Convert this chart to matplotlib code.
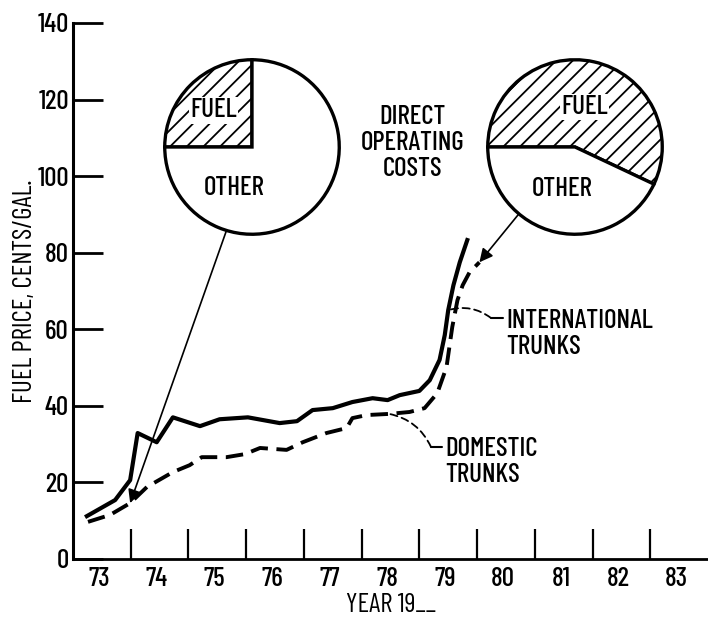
import matplotlib.pyplot as plt
import numpy as np

plt.rcParams['font.family'] = ['Barlow Condensed', 'Roboto Condensed',
                               'Fira Sans Condensed', 'DejaVu Sans']
plt.rcParams['font.size'] = 19.5
plt.rcParams['font.weight'] = 500
plt.rcParams['hatch.linewidth'] = 1.3

# fuel price, cents per gallon
intl_years = [73.24, 73.73, 73.99, 74.12, 74.45, 74.73, 75.2, 75.54, 76.03, 76.58,
              76.88, 77.15, 77.5, 77.84, 78.19, 78.45, 78.66, 79.0, 79.18, 79.35,
              79.44, 79.5, 79.59, 79.7, 79.83]
intl_price = [11.2, 15.4, 20.6, 32.9, 30.5, 37.0, 34.7, 36.5, 37.0, 35.5,
              36.0, 38.9, 39.4, 41.0, 42.0, 41.5, 42.8, 43.9, 46.7, 52.0,
              58.5, 65.0, 71.5, 77.5, 83.3]

dom_years = [73.26, 73.64, 73.99, 74.28, 74.73, 75.02, 75.23, 75.66, 75.98, 76.24,
             76.7, 76.98, 77.39, 77.74, 77.84, 78.09, 78.48, 78.83, 79.09, 79.31,
             79.47, 79.57, 79.66, 79.75, 79.87, 80.04]
dom_price = [9.7, 11.5, 14.6, 18.8, 22.7, 24.5, 26.6, 26.6, 27.4, 29.0,
             28.5, 30.5, 32.9, 34.2, 36.8, 37.6, 37.9, 38.4, 39.4, 43.3,
             50.1, 60.6, 67.6, 71.5, 74.9, 77.5]

year_ticks = list(range(74, 84))
year_labels = ['73', '74', '75', '76', '77', '78', '79', '80', '81', '82', '83']
y_ticks = [0, 20, 40, 60, 80, 100, 120, 140]

# direct operating cost split (percent)
pie_early = [25, 75]   # fuel, other
pie_late = [57, 43]

W, H = 708, 623
fig = plt.figure(figsize=(W / 100, H / 100), dpi=100)
ax = fig.add_axes([73 / W, 64 / H, (W - 73) / W, 536 / H])

ax.plot(intl_years, intl_price, color='k', lw=3.0, solid_joinstyle='round')
ax.plot(dom_years, dom_price, color='k', lw=2.8, dashes=(4.5, 2.2))

ax.set_xlim(73, 84)
ax.set_ylim(0, 140)
ax.set_yticks(y_ticks)
ax.set_xticks(year_ticks)
ax.set_xticklabels([])
ax.set_xticks([y + 0.45 for y in range(73, 84)], minor=True)
ax.set_xticklabels(year_labels, minor=True)
ax.tick_params(axis='both', which='major', direction='in', length=21.5, width=1.6,
               pad=3)
ax.tick_params(axis='x', which='minor', length=0, pad=6)
ax.tick_params(axis='y', width=2.0)
for s in ['top', 'right']:
    ax.spines[s].set_visible(False)
ax.spines['left'].set_linewidth(2.2)
ax.spines['bottom'].set_linewidth(2.0)
ax.set_ylabel('FUEL PRICE, CENTS/GAL.', labelpad=0)
ax.set_xlabel('YEAR 19__', labelpad=1)


def draw_pie(cx, cy, r, shares, fuel_xy, other_xy):
    pax = fig.add_axes([(cx - r) / W, (H - cy - r) / H, 2 * r / W, 2 * r / H])
    wedges, _ = pax.pie(shares, startangle=180, counterclock=False, radius=1,
                        colors=['white', 'white'],
                        wedgeprops=dict(edgecolor='k', linewidth=2.4))
    wedges[0].set_hatch('//')
    pax.set_xlim(-1.02, 1.02)
    pax.set_ylim(-1.02, 1.02)
    pax.set_aspect('equal')
    pax.axis('off')
    pax.text(*fuel_xy, 'FUEL', ha='center', va='center',
             bbox=dict(facecolor='white', edgecolor='none', pad=1))
    pax.text(*other_xy, 'OTHER', ha='center', va='center')
    return pax


pie1 = draw_pie(252, 147, 89, pie_early, (-0.44, 0.42), (-0.2, -0.47))
pie2 = draw_pie(575, 147, 89, pie_late, (0.11, 0.46), (-0.15, -0.48))

fig.text(413 / W, 1 - 143 / H, 'DIRECT\nOPERATING\nCOSTS', ha='center', va='center',
         linespacing=1.13)

# arrows from each pie to its year on the domestic curve
arrow = dict(arrowstyle='-|>', color='k', lw=1.2, mutation_scale=20,
             shrinkA=0, shrinkB=0)
a1 = np.radians(-107)
ax.annotate('', xy=(dom_years[2], dom_price[2]), xytext=(np.cos(a1), np.sin(a1)),
            textcoords=pie1.transData, arrowprops=arrow)
a2 = np.radians(-130)
ax.annotate('', xy=(dom_years[-1], dom_price[-1]), xytext=(np.cos(a2), np.sin(a2)),
            textcoords=pie2.transData, arrowprops=arrow)

# curve labels with leaders
leader = dict(arrowstyle='-', color='k', lw=1.3, linestyle=(0, (4, 2.5)),
              shrinkA=0, shrinkB=0, connectionstyle='arc3,rad=0.25')
solid = dict(arrowstyle='-', color='k', lw=1.5, shrinkA=0, shrinkB=0)

ax.text(506, H - 334, 'INTERNATIONAL\nTRUNKS', transform=None, ha='left',
        va='center', linespacing=1.12)
ax.annotate('', xy=(intl_years[21], intl_price[21]), xytext=(491, H - 318),
            textcoords='figure pixels', arrowprops=leader)
ax.annotate('', xy=(491, H - 318), xycoords='figure pixels', xytext=(503, H - 318),
            textcoords='figure pixels', arrowprops=solid)

ax.text(445, H - 462, 'DOMESTIC\nTRUNKS', transform=None, ha='left',
        va='center', linespacing=1.12)
ax.annotate('', xy=(dom_years[16], dom_price[16]), xytext=(431, H - 447),
            textcoords='figure pixels', arrowprops=leader)
ax.annotate('', xy=(431, H - 447), xycoords='figure pixels', xytext=(442, H - 447),
            textcoords='figure pixels', arrowprops=solid)

fig.savefig('out.png', dpi=100)
